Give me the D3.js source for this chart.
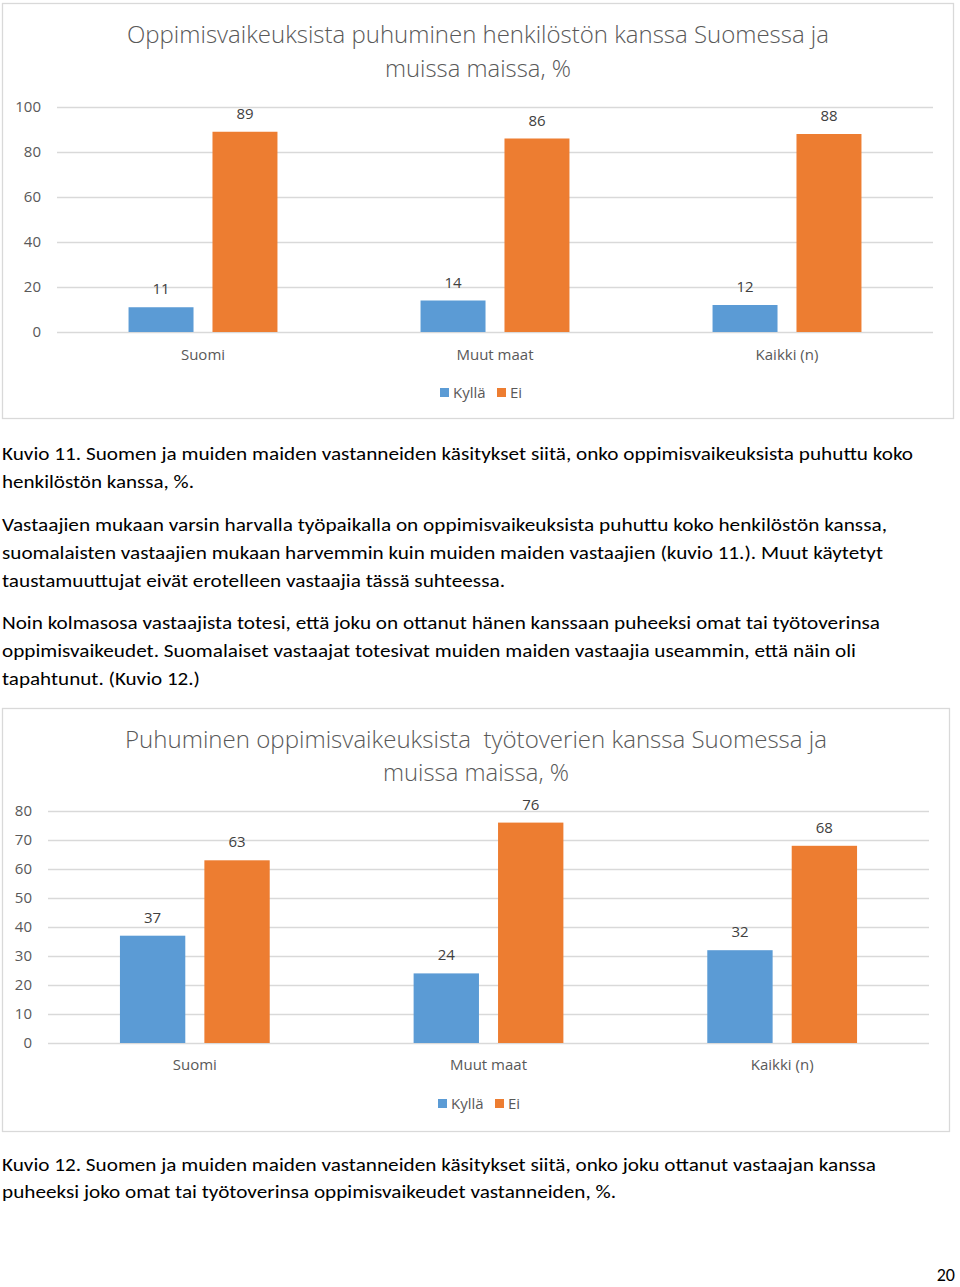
<!DOCTYPE html>
<html>
<head>
<meta charset="utf-8">
<script src="https://cdn.jsdelivr.net/npm/d3@7"></script>
<style>
html,body{margin:0;padding:0;background:#fff;}
svg{display:block;}
text{white-space:pre;}
</style>
</head>
<body>
<svg id="page" width="960" height="1287"></svg>
<script>
// ---------- data ----------
const categories = ["Suomi", "Muut maat", "Kaikki (n)"];
const seriesNames = ["Kyllä", "Ei"];
const chart1Kylla = [11, 14, 12];
const chart1Ei = [89, 86, 88];
const chart2Kylla = [37, 24, 32];
const chart2Ei = [63, 76, 68];
const ticks1 = [0, 20, 40, 60, 80, 100];
const ticks2 = [0, 10, 20, 30, 40, 50, 60, 70, 80];
const title1 = ["Oppimisvaikeuksista puhuminen henkilöstön kanssa Suomessa ja", "muissa maissa, %"];
const title2 = ["Puhuminen oppimisvaikeuksista  työtoverien kanssa Suomessa ja", "muissa maissa, %"];
const caption1 = ["Kuvio 11. Suomen ja muiden maiden vastanneiden käsitykset siitä, onko oppimisvaikeuksista puhuttu koko", "henkilöstön kanssa, %."];
const para1 = ["Vastaajien mukaan varsin harvalla työpaikalla on oppimisvaikeuksista puhuttu koko henkilöstön kanssa,", "suomalaisten vastaajien mukaan harvemmin kuin muiden maiden vastaajien (kuvio 11.). Muut käytetyt", "taustamuuttujat eivät erotelleen vastaajia tässä suhteessa."];
const para2 = ["Noin kolmasosa vastaajista totesi, että joku on ottanut hänen kanssaan puheeksi omat tai työtoverinsa", "oppimisvaikeudet. Suomalaiset vastaajat totesivat muiden maiden vastaajia useammin, että näin oli", "tapahtunut. (Kuvio 12.)"];
const caption2 = ["Kuvio 12. Suomen ja muiden maiden vastanneiden käsitykset siitä, onko joku ottanut vastaajan kanssa", "puheeksi joko omat tai työtoverinsa oppimisvaikeudet vastanneiden, %."];
const pageNumber = "20";

// ---------- style ----------
const colors = {"Kyllä": "#5B9BD5", "Ei": "#ED7D31"};
const grey = "#595959";
const gridColor = "#D9D9D9";
const chartFont = "'Open Sans', 'Noto Sans', sans-serif";
const bodyFont = "Carlito, Calibri, 'Open Sans', sans-serif";

const svg = d3.select("#page");

function drawChart(cfg) {
  const g = svg.append("g");
  // frame
  g.append("rect")
    .attr("x", cfg.box[0] + 0.5).attr("y", cfg.box[1] + 0.5)
    .attr("width", cfg.box[2]).attr("height", cfg.box[3])
    .attr("fill", "#fff").attr("stroke", gridColor).attr("stroke-width", 1.3);

  // title
  cfg.title.forEach((t, i) => {
    g.append("text")
      .attr("x", cfg.titleX[i]).attr("y", cfg.titleY[i])
      .attr("textLength", cfg.titleW[i]).attr("lengthAdjust", "spacingAndGlyphs")
      .attr("font-family", chartFont).attr("font-weight", 300)
      .attr("font-size", 23).attr("fill", grey).text(t);
  });

  const y = d3.scaleLinear().domain([0, cfg.yMax]).range([cfg.y0, cfg.yTop]);
  const x0 = d3.scaleBand().domain(categories).range([cfg.xLeft, cfg.xRight])
    .paddingInner(cfg.outerPad).paddingOuter(cfg.outerPad / 2);
  const x1 = d3.scaleBand().domain(seriesNames).range([0, x0.bandwidth()]).paddingInner(0.226);

  // grid + y axis
  const yAxis = d3.axisLeft(y).tickValues(cfg.ticks).tickSize(-(cfg.xRight - cfg.xLeft)).tickPadding(16);
  const ax = g.append("g").attr("transform", `translate(${cfg.xLeft},0)`).call(yAxis);
  ax.select(".domain").remove();
  ax.selectAll(".tick line").attr("stroke", gridColor).attr("stroke-width", 1.3);
  ax.selectAll(".tick text").attr("font-family", chartFont).attr("font-size", 15)
    .attr("fill", grey).attr("x", cfg.tickLabelX - cfg.xLeft);

  // bars
  const data = categories.map((c, i) => ({cat: c, values: [
    {s: "Kyllä", v: cfg.kylla[i]}, {s: "Ei", v: cfg.ei[i]}]}));
  const grp = g.selectAll(".grp").data(data).join("g")
    .attr("transform", d => `translate(${x0(d.cat)},0)`);
  grp.selectAll("rect").data(d => d.values).join("rect")
    .attr("x", d => x1(d.s)).attr("width", x1.bandwidth())
    .attr("y", d => y(d.v)).attr("height", d => y(0) - y(d.v))
    .attr("fill", d => colors[d.s]);
  grp.selectAll("text.val").data(d => d.values).join("text").attr("class", "val")
    .attr("x", d => x1(d.s) + x1.bandwidth() / 2).attr("y", d => y(d.v) - 13)
    .attr("text-anchor", "middle").attr("font-family", chartFont).attr("font-size", 15)
    .attr("fill", "#404040").text(d => d.v);

  // x axis labels
  const xAxis = d3.axisBottom(x0).tickSize(0).tickPadding(0);
  const xa = g.append("g").attr("transform", `translate(0,${cfg.catLabelY})`).call(xAxis);
  xa.select(".domain").remove();
  xa.selectAll(".tick text").attr("font-family", chartFont).attr("font-size", 15)
    .attr("fill", grey).attr("dy", 0);

  // legend
  const lg = g.append("g");
  seriesNames.forEach((s, i) => {
    lg.append("rect").attr("x", cfg.legendX[i]).attr("y", cfg.legendY - 10)
      .attr("width", 9).attr("height", 9).attr("fill", colors[s]);
    lg.append("text").attr("x", cfg.legendX[i] + 13).attr("y", cfg.legendY)
      .attr("font-family", chartFont).attr("font-size", 15).attr("fill", grey).text(s);
  });
}

drawChart({
  box: [2, 3, 951, 415],
  title: title1, titleX: [127, 385], titleY: [43, 77], titleW: [702, 186],
  yMax: 100, y0: 332, yTop: 107, ticks: ticks1,
  xLeft: 57, xRight: 933, outerPad: 0.49, tickLabelX: 41,
  kylla: chart1Kylla, ei: chart1Ei,
  catLabelY: 360, legendX: [440, 497], legendY: 398
});

drawChart({
  box: [2, 708, 947, 423],
  title: title2, titleX: [125, 383], titleY: [748, 781], titleW: [702, 186],
  yMax: 80, y0: 1043, yTop: 811, ticks: ticks2,
  xLeft: 48, xRight: 929, outerPad: 0.49, tickLabelX: 32,
  kylla: chart2Kylla, ei: chart2Ei,
  catLabelY: 1070, legendX: [438, 495], legendY: 1109
});

// ---------- body text ----------
function drawLines(lines, baselines, widths) {
  lines.forEach((t, i) => {
    svg.append("text").attr("x", 2).attr("y", baselines[i])
      .attr("textLength", widths[i]).attr("lengthAdjust", "spacingAndGlyphs")
      .attr("font-family", bodyFont).attr("font-size", 18.5).attr("fill", "#000").text(t);
  });
}
drawLines(caption1, [460, 488], [911, 192]);
drawLines(para1, [531, 559, 587], [885, 881, 503]);
drawLines(para2, [629, 657, 685], [878, 854, 198]);
drawLines(caption2, [1171, 1198], [874, 614]);

svg.append("text").attr("x", 955).attr("y", 1281).attr("text-anchor", "end")
  .attr("font-family", bodyFont).attr("font-size", 18).attr("fill", "#000").text(pageNumber);
</script>
</body>
</html>
